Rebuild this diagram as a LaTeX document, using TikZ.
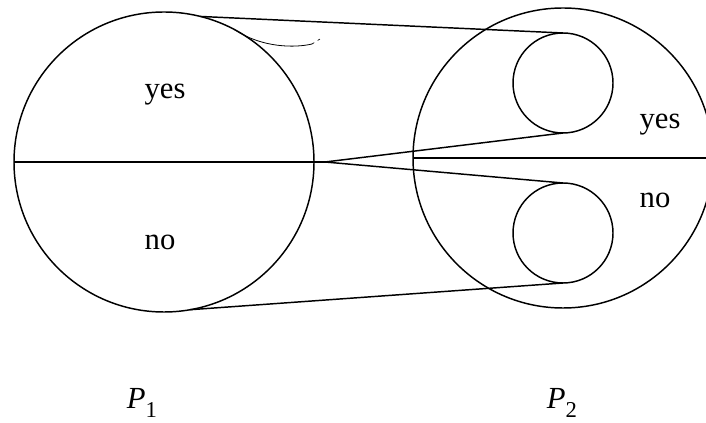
\documentclass[tikz,border=0pt]{standalone}
\usepackage{fontspec}
\setmainfont{Liberation Serif}
\begin{document}
\begin{tikzpicture}[x=0.75pt,y=-0.75pt,
	ring/.style={draw, circle, inner sep=0pt, outer sep=0pt, line width=1.1pt},
	lbl/.style={font=\fontsize{23}{27}\selectfont, inner sep=0pt}]
	\useasboundingbox (0,0) rectangle (706,423);
	\clip (0,0) rectangle (706,423);
	% the two big circles
	\node[ring, minimum size=225pt] (P1c) at (164,162) {};
	\node[ring, minimum size=225pt] (P2c) at (563,158) {};
	% the two small circles inside P2
	\node[ring, minimum size=75pt] (yesc) at (563,83) {};
	\node[ring, minimum size=75pt] (noc) at (563,233) {};
	% dividing lines
	\coordinate (tip) at (325,162);
	\draw[line width=1.1pt] (P1c.west) -- (tip);
	\draw[line width=1.1pt] (P2c.west) -- (P2c.east);
	% the four lines of the map
	\draw[line width=1.1pt] (P1c.76) -- (yesc.north);
	\draw[line width=1.1pt] (tip) -- (yesc.south);
	\draw[line width=1.1pt] (tip) -- (noc.north);
	\draw[line width=1.1pt] (P1c.-80) -- (noc.south);
	% faint arc near the top
	\draw[line width=0.6pt] (P1c.62) .. controls (262,48) and (295,48) .. (312,44);
	\draw[line width=0.5pt, dash pattern=on 2pt off 3pt] (312,44) -- (320,39);
	% labels
	\node[lbl] (yes1) at (165,95) {yes};
	\node[lbl] (no1) at (160,242) {no};
	\node[lbl] (yes2) at (660,125) {yes};
	\node[lbl] (no2) at (655,200) {no};
	\node[lbl] (P1) at (142,403) {\textit{P}\raisebox{-0.7ex}{\fontsize{17}{17}\selectfont 1}};
	\node[lbl] (P2) at (562,403) {\textit{P}\raisebox{-0.7ex}{\fontsize{17}{17}\selectfont 2}};
\end{tikzpicture}
\end{document}
